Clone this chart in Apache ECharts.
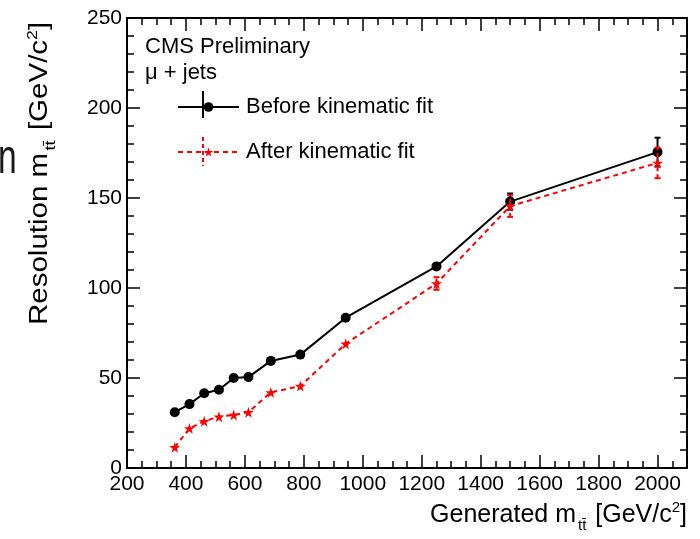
<!DOCTYPE html>
<html>
<head>
<meta charset="utf-8">
<script src="https://cdn.jsdelivr.net/npm/echarts@6/dist/echarts.min.js"></script>
<style>
html,body{margin:0;padding:0;background:#fff;}
#chart{width:700px;height:539px;}
</style>
</head>
<body>
<div id="chart"></div>
<script>
// ---- data ----
const massPoints = [362, 412, 462, 512, 562, 612, 688, 788, 942, 1250, 1500, 2000];
const beforeFit = [31, 35.5, 41.5, 43.5, 50, 50.5, 59.5, 63, 83.5, 112, 148, 175.5];
const beforeErr = [1, 1, 1, 1, 1, 1, 1, 1.5, 1.5, 2, 4.5, 8];
const afterFit = [11.5, 22, 26, 28.5, 29.5, 31, 42, 45.5, 69, 102.5, 145.5, 169.5];
const afterErr = [1, 1, 1, 1, 1, 1, 1, 1.5, 1.5, 3.5, 6, 8.5];
const seriesNames = ['Before kinematic fit', 'After kinematic fit'];
const headerLines = ['CMS Preliminary', 'μ + jets'];

const FONT = '"Liberation Sans", Arial, Helvetica, sans-serif';
const STAR = 'path://M50,0 L61,35 L98,35 L68,57 L79,91 L50,70 L21,91 L32,57 L2,35 L39,35 Z';

const chart = echarts.init(document.getElementById('chart'), null, {renderer: 'canvas'});

function errData(vals, errs) {
  return massPoints.map((x, i) => [x, vals[i] - errs[i], vals[i] + errs[i]]);
}
function errRender(color, dash) {
  return function (params, api) {
    const x = api.value(0), lo = api.value(1), hi = api.value(2);
    const p1 = api.coord([x, lo]), p2 = api.coord([x, hi]);
    const children = [
      {type: 'line', shape: {x1: p1[0], y1: p1[1], x2: p2[0], y2: p2[1]}, style: {stroke: color, lineWidth: 2, lineDash: dash}}
    ];
    if (Math.abs(p1[1] - p2[1]) > 12) {
      children.push({type: 'line', shape: {x1: p1[0] - 3, y1: p1[1], x2: p1[0] + 3, y2: p1[1]}, style: {stroke: color, lineWidth: 2}});
      children.push({type: 'line', shape: {x1: p2[0] - 3, y1: p2[1], x2: p2[0] + 3, y2: p2[1]}, style: {stroke: color, lineWidth: 2}});
    }
    return {type: 'group', children: children};
  };
}

const axisCommon = {
  axisLine: {show: true, onZero: false, lineStyle: {color: '#000', width: 2}},
  axisTick: {show: true, inside: true, length: 13, lineStyle: {color: '#000', width: 1.5}},
  minorTick: {show: true, length: 7, lineStyle: {color: '#000', width: 1.5}},
  splitLine: {show: false}
};
const plain = v => String(v);

const option = {
  backgroundColor: '#fff',
  animation: false,
  grid: {left: 127, right: 13, top: 18, bottom: 71, containLabel: false, outerBoundsMode: 'none'},
  xAxis: [
    Object.assign({}, axisCommon, {
      type: 'value', position: 'bottom', min: 200, max: 2100, interval: 200,
      minorTick: Object.assign({}, axisCommon.minorTick, {splitNumber: 4}),
      axisLabel: {show: true, color: '#000', fontSize: 21, fontFamily: FONT, margin: 6, showMaxLabel: false, formatter: plain}
    }),
    Object.assign({}, axisCommon, {
      type: 'value', position: 'top', min: 200, max: 2100, interval: 200,
      minorTick: Object.assign({}, axisCommon.minorTick, {splitNumber: 4}),
      axisLabel: {show: false}
    })
  ],
  yAxis: [
    Object.assign({}, axisCommon, {
      type: 'value', position: 'left', min: 0, max: 250, interval: 50,
      minorTick: Object.assign({}, axisCommon.minorTick, {splitNumber: 5}),
      axisLabel: {show: true, color: '#000', fontSize: 21, fontFamily: FONT, margin: 5, formatter: plain}
    }),
    Object.assign({}, axisCommon, {
      type: 'value', position: 'right', min: 0, max: 250, interval: 50,
      minorTick: Object.assign({}, axisCommon.minorTick, {splitNumber: 5}),
      axisLabel: {show: false}
    })
  ],
  legend: {
    show: true,
    orient: 'vertical',
    left: 172, top: 91,
    itemWidth: 61, itemHeight: 12, itemGap: 23,
    textStyle: {color: '#000', fontSize: 22, fontFamily: FONT, padding: [0, 0, 0, 2]},
    data: seriesNames
  },
  series: [
    {
      name: seriesNames[0], type: 'line',
      data: massPoints.map((x, i) => [x, beforeFit[i]]),
      symbol: 'circle', symbolSize: 10,
      itemStyle: {color: '#000'},
      lineStyle: {color: '#000', width: 2, type: 'solid'},
      z: 3
    },
    {
      name: seriesNames[0], type: 'custom',
      data: errData(beforeFit, beforeErr),
      renderItem: errRender('#000', null),
      z: 2
    },
    {
      name: seriesNames[1], type: 'line',
      data: massPoints.map((x, i) => [x, afterFit[i]]),
      symbol: STAR, symbolSize: 11,
      itemStyle: {color: '#ff0000'},
      lineStyle: {color: '#ff0000', width: 2, type: [5, 4]},
      z: 4
    },
    {
      name: seriesNames[1], type: 'custom',
      data: errData(afterFit, afterErr),
      renderItem: errRender('#ff0000', [4, 3]),
      z: 4
    }
  ],
  graphic: [
    {type: 'text', x: 145, y: 47, style: {text: headerLines[0], fill: '#000', font: '22px ' + FONT, verticalAlign: 'middle', align: 'left'}},
    {type: 'text', x: 145, y: 73, style: {text: headerLines[1], fill: '#000', font: '22px ' + FONT, verticalAlign: 'middle', align: 'left'}},
    // legend error-bar glyphs
    {type: 'line', shape: {x1: 203, y1: 91, x2: 203, y2: 118}, style: {stroke: '#000', lineWidth: 2}, z: 100},
    {type: 'line', shape: {x1: 203, y1: 137, x2: 203, y2: 166}, style: {stroke: '#ff0000', lineWidth: 2, lineDash: [4, 3]}, z: 100},
    // x axis title
    {
      type: 'text', x: 687, y: 515,
      style: {
        text: '{n|Generated m}{s|tt̄}{n| [GeV/c}{p|2}{n|]}',
        align: 'right', verticalAlign: 'middle',
        rich: {
          n: {fontSize: 25, fontFamily: FONT, color: '#000'},
          s: {fontSize: 15, fontFamily: FONT, color: '#000', padding: [22, 2, 0, 2]},
          p: {fontSize: 15, fontFamily: FONT, color: '#000', padding: [0, 0, 14, 0]}
        }
      }
    },
    // y axis title
    {
      type: 'text', x: 40, y: 325, rotation: Math.PI / 2, scaleX: 1.18,
      style: {
        text: '{n|Resolution m}{s|tt̄}{n| [GeV/c}{p|2}{n|]}',
        align: 'left', verticalAlign: 'middle',
        rich: {
          n: {fontSize: 25, fontFamily: FONT, color: '#000'},
          s: {fontSize: 15, fontFamily: FONT, color: '#000', padding: [22, 2, 0, 2]},
          p: {fontSize: 15, fontFamily: FONT, color: '#000', padding: [0, 0, 14, 0]}
        }
      }
    },
    // cropped letter at the far left
    {type: 'text', x: -2, y: 160, scaleX: 0.7, style: {text: 'n', fill: '#1a1a1a', font: '48px ' + FONT, verticalAlign: 'middle', align: 'left'}}
  ]
};
chart.setOption(option);
</script>
</body>
</html>
